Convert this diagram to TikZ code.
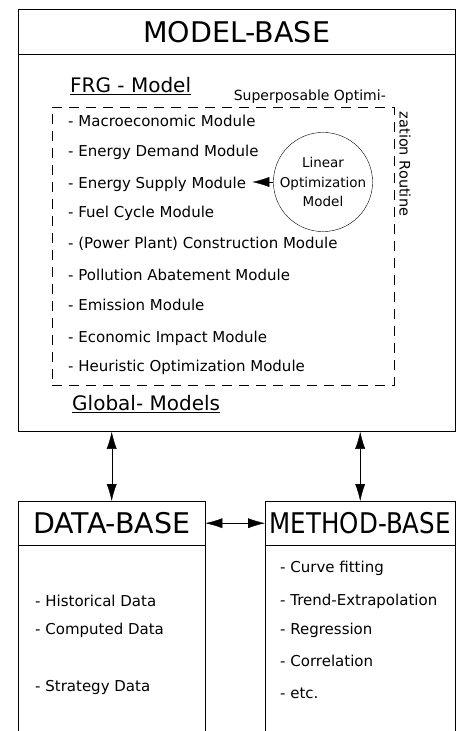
\documentclass[tikz,border=0pt]{standalone}
\usepackage{fontspec}
\setmainfont{DejaVu Sans}
\usetikzlibrary{arrows.meta,positioning}
\tikzset{>={Latex[length=17pt,width=10pt]},line width=1.4pt}
\tikzset{item/.style={anchor=west,inner sep=0pt,font=\fontsize{15}{17}\selectfont}}
\tikzset{headbox/.style={draw,anchor=north west,inner sep=0pt,font=\fontsize{28.5}{31}\selectfont}}
\tikzset{title/.style={anchor=west,inner sep=0pt,font=\fontsize{20}{22}\selectfont}}

\begin{document}
\begin{tikzpicture}[x=1pt,y=-1pt]
\useasboundingbox (0,0) rectangle (462,731);
% model base
\node[headbox,minimum width=437pt,minimum height=45pt] (mhead) at (18,9) {MODEL-BASE};
\node[draw,anchor=north,minimum width=437pt,minimum height=377pt] (mbody) at (mhead.south) {};
\node[title] (frg) at (70,86) {\underline{FRG - Model}};
\node[title] (glob) at (72,404) {\underline{Global- Models}};
\node[draw,dashed,dash pattern=on 10pt off 7pt,anchor=north west,minimum width=342pt,minimum height=278pt] (frame) at (52,107) {};
\node[item,anchor=south east,font=\fontsize{14}{16}\selectfont] (sup) at (386,104) {Superposable Optimi-};
\node[item,rotate=-90,anchor=center,font=\fontsize{14.5}{16}\selectfont] (rout) at (405,164) {zation Routine};
\foreach \y/\t [count=\i] in {121/Macroeconomic Module,152/Energy Demand Module,184/Energy Supply Module,
  213/Fuel Cycle Module,244/(Power Plant) Construction Module,275/Pollution Abatement Module,
  305/Emission Module,338/Economic Impact Module,367/Heuristic Optimization Module}
  \node[item] (mod\i) at (68,\y) {- \t};
\node[draw,circle,minimum size=91pt,inner sep=0pt,align=center,font=\fontsize{13.5}{19.5}\selectfont] (lom) at (323,182) {Linear\\Optimization\\Model};
\draw[->] (lom.west) -- (lom.west -| mod3.east) [shorten >=6pt];

% data base and method base
\node[headbox,minimum width=187pt,minimum height=44pt] (dhead) at (18,501) {DATA-BASE};
\node[headbox,minimum width=190pt,minimum height=44pt] (thead) at (265,501) {\scalebox{0.86}[1]{METHOD-BASE}};
\draw (dhead.south west) -- ++(0,200);
\draw (dhead.south east) -- ++(0,200);
\draw (thead.south west) -- ++(0,200);
\draw (thead.south east) -- ++(0,200);
\foreach \y/\t [count=\i] in {601/Historical Data,630/Computed Data,687/Strategy Data}
  \node[item] (dat\i) at (35,\y) {- \t};
\foreach \y/\t [count=\i] in {568/Curve fitting,601/Trend-Extrapolation,630/Regression,661/Correlation,693/etc.}
  \node[item] (met\i) at (280,\y) {- \t};

\draw[<->] (mbody.south -| dhead.north) -- (dhead.north);
\draw[<->] (mbody.south -| thead.north) -- (thead.north);
\draw[<->] (dhead.east) -- (thead.west);
\end{tikzpicture}
\end{document}
